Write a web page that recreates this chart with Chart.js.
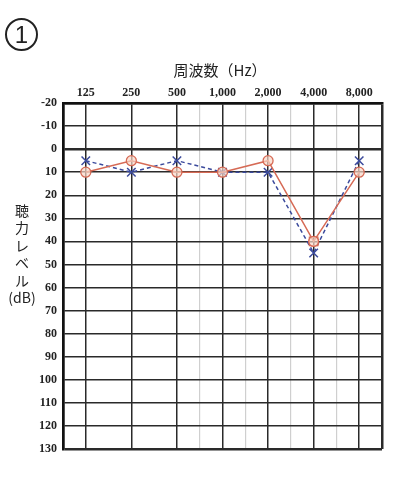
<!DOCTYPE html>
<html>
<head>
<meta charset="utf-8">
<script src="https://cdn.jsdelivr.net/npm/chart.js@4/dist/chart.umd.min.js"></script>
<style>
  body { margin: 0; background: #fff; }
  #wrap { position: relative; width: 409px; height: 500px; }
  canvas { position: absolute; left: 0; top: 0; }
  .txt { position: absolute; color: #222; font-family: "Noto Sans CJK JP", serif; }
  #num { left: 5px; top: 18px; width: 29px; height: 29px; border: 2px solid #222; border-radius: 50%;
         font: 24px "Liberation Sans", sans-serif; text-align: center; line-height: 29px; }
  #xtitle { left: 150px; top: 59px; width: 140px; text-align: center; font-size: 15px; }
  #ytitle { left: 4px; top: 202px; width: 36px; text-align: center; font-size: 14px; line-height: 17.4px; }
</style>
</head>
<body>
<div id="wrap">
  <canvas id="audiogram" width="409" height="500"></canvas>
  <div class="txt" id="num">1</div>
  <div class="txt" id="xtitle">周波数（Hz）</div>
  <div class="txt" id="ytitle">聴<br>力<br>レ<br>ベ<br>ル<br>(dB)</div>
</div>
<script>
// === Data ===
const freqLabels = ['125', '250', '500', '1,000', '2,000', '4,000', '8,000'];
const rightEar = [10, 5, 10, 10, 5, 40, 10];   // red circles, solid line
const leftEar = [5, 10, 5, 10, 10, 45, 5];     // blue crosses, dashed line
const maskedFreq = [5];                        // index into freqLabels
const maskedVal = [40];
const dbMin = -20, dbMax = 130;

const RED = '#d66a55';
const BLUE = '#3b4a9c';

function toPoints(values) {
  return values.map((v, i) => ({ x: i, y: v }));
}

const ctx = document.getElementById('audiogram').getContext('2d');
new Chart(ctx, {
  type: 'line',
  data: {
    datasets: [
      {
        label: 'right',
        data: toPoints(rightEar),
        borderColor: RED,
        borderWidth: 1.5,
        pointStyle: 'circle',
        pointRadius: 5,
        pointBorderColor: RED,
        pointBackgroundColor: 'rgba(250,215,200,0.7)',
        pointBorderWidth: 1.3
      },
      {
        label: 'masked',
        data: maskedFreq.map((f, i) => ({ x: f, y: maskedVal[i] })),
        showLine: false,
        pointStyle: 'rect',
        pointRadius: 6,
        pointBorderColor: RED,
        pointBackgroundColor: 'rgba(0,0,0,0)',
        pointBorderWidth: 1.3
      },
      {
        label: 'left',
        data: toPoints(leftEar),
        borderColor: BLUE,
        borderWidth: 1.5,
        borderDash: [4, 3],
        pointStyle: 'crossRot',
        pointRadius: 6,
        pointBorderColor: BLUE,
        pointBorderWidth: 1.5
      }
    ]
  },
  options: {
    responsive: false,
    animation: false,
    layout: { padding: { left: 0, top: 0, right: 27, bottom: 51 } },
    plugins: { legend: { display: false }, tooltip: { enabled: false } },
    scales: {
      x: {
        type: 'linear',
        position: 'top',
        min: -0.5,
        max: 6.5,
        afterFit: s => { s.height = 103; },
        ticks: {
          stepSize: 0.5,
          autoSkip: false,
          maxRotation: 0,
          padding: 3,
          color: '#222',
          font: { family: 'Liberation Serif', size: 12, weight: 'bold' },
          callback: v => Number.isInteger(v) ? freqLabels[v] : ''
        },
        grid: {
          drawTicks: false,
          color: c => {
            const v = c.tick.value;
            if (Number.isInteger(v) || v === -0.5 || v === 6.5) return '#2a2a2a';
            if (v >= 2.5) return '#cfcfcf';
            return 'rgba(0,0,0,0)';
          },
          lineWidth: c => {
            const v = c.tick.value;
            if (v === -0.5 || v === 6.5) return 2.5;
            return Number.isInteger(v) ? 1.5 : 1.2;
          }
        },
        border: { color: '#111', width: 2.5 }
      },
      y: {
        reverse: true,
        min: dbMin,
        max: dbMax,
        afterFit: s => { s.width = 63; },
        ticks: {
          stepSize: 10,
          padding: 6,
          color: '#222',
          font: { family: 'Liberation Serif', size: 12, weight: 'bold' }
        },
        grid: {
          drawTicks: false,
          color: '#2a2a2a',
          lineWidth: c => {
            const v = c.tick.value;
            if (v === 0 || v === dbMin || v === dbMax) return 2.5;
            return 1.5;
          }
        },
        border: { color: '#111', width: 2.5 }
      }
    }
  }
});
</script>
</body>
</html>
